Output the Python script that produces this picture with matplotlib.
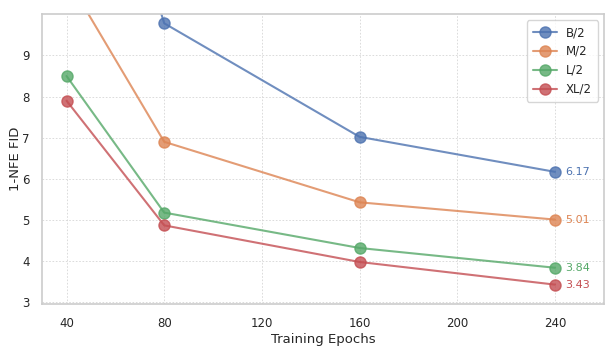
import matplotlib
matplotlib.use("Agg")
import matplotlib.pyplot as plt
import seaborn as sns

epochs = [40, 80, 160, 240]
series_names = ["B/2", "M/2", "L/2", "XL/2"]
b2 = [17.5, 9.78, 7.02, 6.17]
m2 = [10.9, 6.90, 5.43, 5.01]
l2 = [8.50, 5.18, 4.32, 3.84]
xl2 = [7.90, 4.87, 3.98, 3.43]
xticks = [40, 80, 120, 160, 200, 240]
yticks = [3, 4, 5, 6, 7, 8, 9]

sns.set_theme(style="whitegrid")
plt.rcParams['font.family'] = ['DejaVu Sans']
colors = sns.color_palette("deep")[:4]

fig, ax = plt.subplots(figsize=(6.1, 3.56), dpi=100)
for name, vals, c in zip(series_names, [b2, m2, l2, xl2], colors):
    ax.plot(epochs, vals, marker='o', markersize=8, linewidth=1.5, color=c, alpha=0.8, label=name)
    ax.annotate(f"{vals[-1]:.2f}", (epochs[-1], vals[-1]), xytext=(7, 0), textcoords='offset points',
                va='center', ha='left', fontsize=8, color=c)

ax.set_xlim(30, 260)
ax.set_ylim(2.95, 10)
ax.set_xticks(xticks)
ax.set_yticks(yticks)
ax.tick_params(labelsize=8.5, pad=3)
ax.set_xlabel("Training Epochs", fontsize=9.5, labelpad=2)
ax.set_ylabel("1-NFE FID", fontsize=9.5, labelpad=0)
ax.grid(True, linestyle=(0, (2, 2)), linewidth=0.6, color='#d6d6d6')
for s in ax.spines.values():
    s.set_color('#cccccc')
    s.set_linewidth(1.2)
ax.legend(loc='upper right', fontsize=8.5, frameon=True, borderpad=0.5)
fig.subplots_adjust(left=0.069, right=0.99, top=0.96, bottom=0.145)
fig.savefig("out.png", dpi=100)
